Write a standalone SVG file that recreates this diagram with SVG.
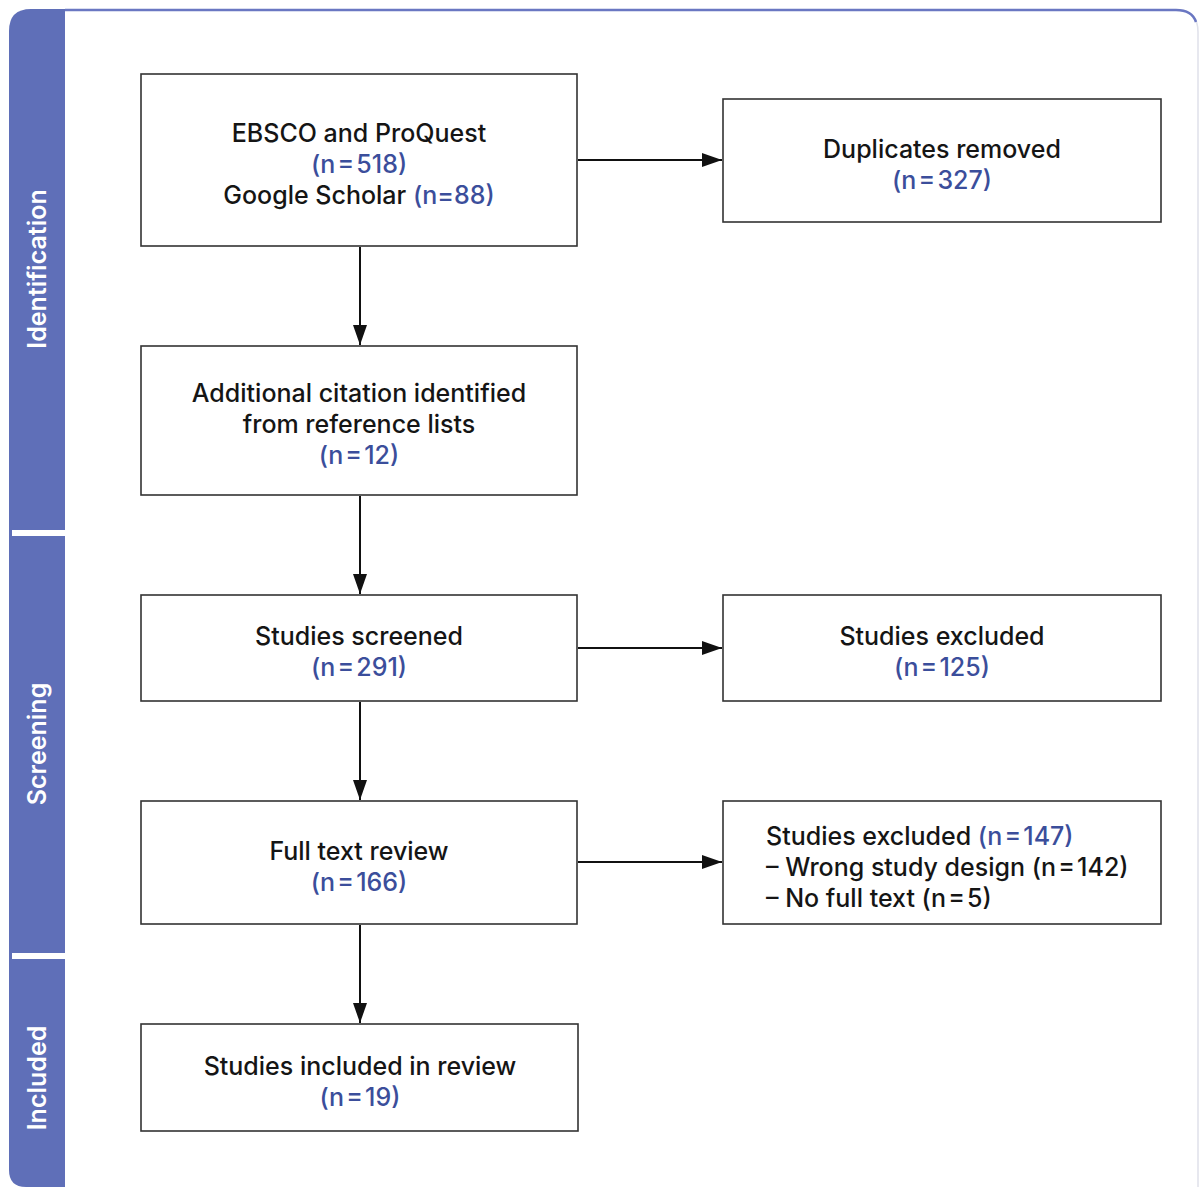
<svg xmlns="http://www.w3.org/2000/svg" width="1201" height="1187" viewBox="0 0 1201 1187">
<defs>
<marker id="ah" viewBox="0 0 20 14" refX="20" refY="7" markerWidth="20" markerHeight="14" markerUnits="userSpaceOnUse" orient="auto">
<path d="M0,0 L20,7 L0,14 Z" fill="#111"/>
</marker>
<style>
.box{fill:#fff;stroke:#333;stroke-width:1.6}
.t{font-family:Inter,"Noto Sans","Liberation Sans",sans-serif;font-size:25px;font-weight:500;fill:#151515;text-anchor:middle}
.l{text-anchor:start}
.n{fill:#3b4e9b}
.side{font-family:Inter,"Noto Sans","Liberation Sans",sans-serif;font-size:25px;font-weight:600;fill:#fff;text-anchor:middle}
.conn{stroke:#111;stroke-width:2;fill:none}
</style>
</defs>
<rect width="1201" height="1187" fill="#fff"/>
<g id="frame">
<path d="M65,10 L1176,10 Q1198,10 1198,32 L1198,1187" fill="none" stroke="#dfe1ea" stroke-width="1.5"/>
<path d="M65,10 L1176,10 Q1192,10 1196,22" fill="none" stroke="#6a77c2" stroke-width="2.5"/>
<path d="M65,9 L31,9 Q9,9 9,31 L9,1170 Q9,1187 26,1187 L65,1187 Z" fill="#5f6fb8"/>
<rect x="12" y="530" width="53" height="6" fill="#fff"/>
<rect x="12" y="953" width="53" height="6" fill="#fff"/>
<text class="side" transform="translate(46,269) rotate(-90)">Identification</text>
<text class="side" transform="translate(46,744) rotate(-90)">Screening</text>
<text class="side" transform="translate(46,1078) rotate(-90)">Included</text>
</g>
<g id="connectors">
<line class="conn" x1="360" y1="247" x2="360" y2="345" marker-end="url(#ah)"/>
<line class="conn" x1="360" y1="496" x2="360" y2="594" marker-end="url(#ah)"/>
<line class="conn" x1="360" y1="702" x2="360" y2="800" marker-end="url(#ah)"/>
<line class="conn" x1="360" y1="925" x2="360" y2="1023" marker-end="url(#ah)"/>
<line class="conn" x1="578" y1="160" x2="722" y2="160" marker-end="url(#ah)"/>
<line class="conn" x1="578" y1="648" x2="722" y2="648" marker-end="url(#ah)"/>
<line class="conn" x1="578" y1="862" x2="722" y2="862" marker-end="url(#ah)"/>
</g>
<g id="n1">
<rect class="box" x="141" y="74" width="436" height="172"/>
<text class="t" x="359" y="142">EBSCO and ProQuest</text>
<text class="t n" x="359" y="173">(n&#8202;=&#8202;518)</text>
<text class="t" x="359" y="204">Google Scholar <tspan class="n">(n=88)</tspan></text>
</g>
<g id="n2">
<rect class="box" x="723" y="99" width="438" height="123"/>
<text class="t" x="942" y="158">Duplicates removed</text>
<text class="t n" x="942" y="189">(n&#8202;=&#8202;327)</text>
</g>
<g id="n3">
<rect class="box" x="141" y="346" width="436" height="149"/>
<text class="t" x="359" y="402">Additional citation identified</text>
<text class="t" x="359" y="433">from reference lists</text>
<text class="t n" x="359" y="464">(n&#8202;=&#8202;12)</text>
</g>
<g id="n4">
<rect class="box" x="141" y="595" width="436" height="106"/>
<text class="t" x="359" y="645">Studies screened</text>
<text class="t n" x="359" y="676">(n&#8202;=&#8202;291)</text>
</g>
<g id="n5">
<rect class="box" x="723" y="595" width="438" height="106"/>
<text class="t" x="942" y="645">Studies excluded</text>
<text class="t n" x="942" y="676">(n&#8202;=&#8202;125)</text>
</g>
<g id="n6">
<rect class="box" x="141" y="801" width="436" height="123"/>
<text class="t" x="359" y="860">Full text review</text>
<text class="t n" x="359" y="891">(n&#8202;=&#8202;166)</text>
</g>
<g id="n7">
<rect class="box" x="723" y="801" width="438" height="123"/>
<text class="t l" x="766" y="845">Studies excluded <tspan class="n">(n&#8202;=&#8202;147)</tspan></text>
<text class="t l" x="766" y="876">– Wrong study design (n&#8202;=&#8202;142)</text>
<text class="t l" x="766" y="907">– No full text (n&#8202;=&#8202;5)</text>
</g>
<g id="n8">
<rect class="box" x="141" y="1024" width="437" height="107"/>
<text class="t" x="360" y="1075">Studies included in review</text>
<text class="t n" x="360" y="1106">(n&#8202;=&#8202;19)</text>
</g>
</svg>
